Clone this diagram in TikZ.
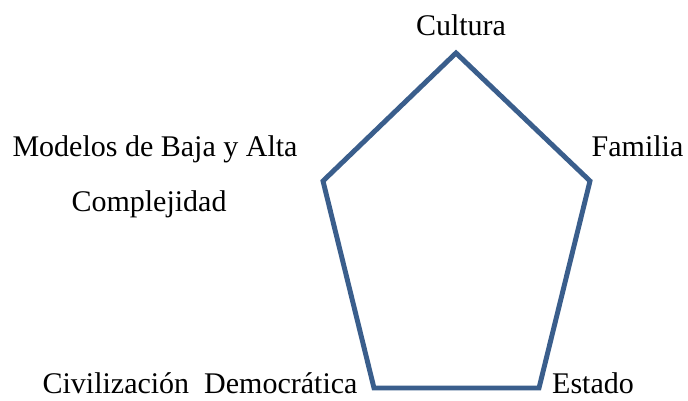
\documentclass[tikz,border=0pt]{standalone}
\usepackage{fontspec}
\setmainfont{Liberation Serif}
\definecolor{pentblue}{RGB}{58,94,140}
\begin{document}
\begin{tikzpicture}[x=0.75pt,y=-0.75pt,
  lbl/.style={inner sep=0pt,anchor=base,font=\fontsize{22.5pt}{27pt}\selectfont},
  edge/.style={draw=pentblue,line width=3.7pt,line join=miter}]
\useasboundingbox (0,0) rectangle (688,400);
\coordinate (T) at (456,53);
\coordinate (R) at (590,181);
\coordinate (BR) at (539,388);
\coordinate (BL) at (374,388);
\coordinate (L) at (323,181);
\draw[edge] (T) -- (R) -- (BR) -- (BL) -- (L) -- cycle;
\node[lbl] (cultura) at (461,35) {Cultura};
\node[lbl] (familia) at (637.5,156) {Familia};
\node[lbl] (modelos) at (155,156) {Modelos de Baja y Alta};
\node[lbl] (compl) at (149,211) {Complejidad};
\node[lbl] (civil) at (200,393) {Civilización\ \ Democrática};
\node[lbl] (estado) at (593,393) {Estado};
\end{tikzpicture}
\end{document}
